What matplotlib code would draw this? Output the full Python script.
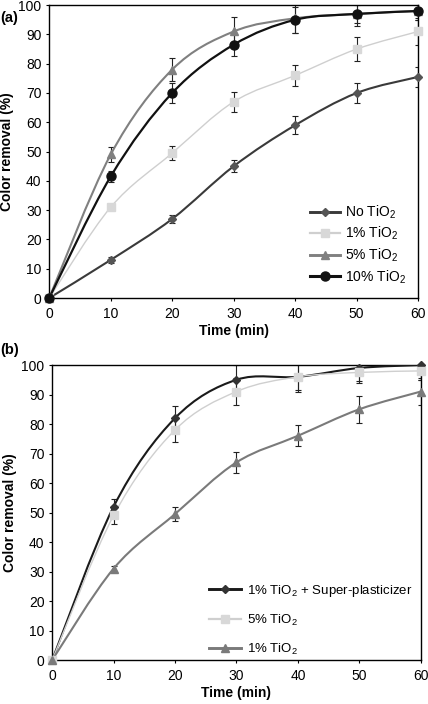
import numpy as np
import matplotlib
matplotlib.use("Agg")
import matplotlib.pyplot as plt
from matplotlib.path import Path
from matplotlib.patches import PathPatch
from matplotlib.lines import Line2D

plt.rcParams['font.family'] = ['Liberation Sans', 'DejaVu Sans']
plt.rcParams['mathtext.fontset'] = 'custom'
plt.rcParams['mathtext.rm'] = 'Liberation Sans'
plt.rcParams['mathtext.it'] = 'Liberation Sans'

# ---- data ----
time_min = [0, 10, 20, 30, 40, 50, 60]

# panel (a)
a_labels = ["No TiO$_2$", "1% TiO$_2$", "5% TiO$_2$", "10% TiO$_2$"]
a_no_tio2 = [0, 13, 27, 45, 59, 70, 75.5]
a_no_tio2_err = [0, 1, 1.5, 2, 3, 3.5, 3.5]
a_1pct = [0, 31, 49.5, 67, 76, 85, 91]
a_1pct_err = [0, 0, 2.5, 3.5, 3.5, 4, 4.5]
a_5pct = [0, 49, 78, 91, 95.5, 97, 98]
a_5pct_err = [0, 2.5, 4, 5, 5, 4, 3]
a_10pct = [0, 41.5, 70, 86.5, 95, 97, 98]
a_10pct_err = [0, 2, 3.5, 4, 4.5, 3, 3]

# panel (b)
b_labels = ["1% TiO$_2$ + Super-plasticizer", "5% TiO$_2$", "1% TiO$_2$"]
b_super = [0, 52, 82, 95, 96, 99, 100]
b_super_err = [0, 2.5, 4, 5, 5, 5, 5]
b_5pct = [0, 49, 78, 91, 96, 97.5, 98]
b_5pct_err = [0, 3, 4, 4.5, 4.5, 3, 3]
b_1pct = [0, 31, 49.5, 67, 76, 85, 91]
b_1pct_err = [0, 1, 2.5, 3.5, 3.5, 4.5, 4.5]


def smooth_path(x, y):
    # Excel-like smoothed line: Catmull-Rom segments as cubic Beziers
    p = np.column_stack([x, y]).astype(float)
    n = len(p)
    verts = [p[0]]
    codes = [Path.MOVETO]
    for i in range(n - 1):
        p0 = p[i - 1] if i > 0 else p[i]
        p1 = p[i]
        p2 = p[i + 1]
        p3 = p[i + 2] if i + 2 < n else p[i + 1]
        c1 = p1 + (p2 - p0) / 6.0
        c2 = p2 - (p3 - p1) / 6.0
        verts += [c1, c2, p2]
        codes += [Path.CURVE4] * 3
    return Path(verts, codes)


def draw_series(ax, y, err, color, mcolor, marker, ms, lw):
    ax.add_patch(PathPatch(smooth_path(time_min, y), facecolor='none',
                           edgecolor=color, lw=lw, zorder=3))
    ax.errorbar(time_min, y, yerr=err, fmt='none', ecolor='#222222',
                elinewidth=0.8, capsize=2, capthick=0.8, zorder=2)
    ax.plot(time_min, y, ls='none', marker=marker, ms=ms, color=mcolor,
            mec=mcolor, zorder=4, clip_on=False)
    return Line2D([], [], color=color, lw=lw + 0.6, marker=marker, ms=ms,
                  mfc=mcolor, mec=mcolor)


def style_axes(ax):
    ax.set_xlim(0, 60)
    ax.set_ylim(0, 100)
    ax.set_xticks(range(0, 61, 10))
    ax.set_yticks(range(0, 101, 10))
    ax.tick_params(labelsize=10, length=2.5, width=0.8, pad=3)
    ax.tick_params(axis='x', pad=4)
    for s in ax.spines.values():
        s.set_linewidth(1.0)
    ax.set_xlabel("Time (min)", fontsize=10, fontweight='bold', labelpad=2)
    ax.set_ylabel("Color removal (%)", fontsize=10, fontweight='bold', labelpad=3)


fig = plt.figure(figsize=(4.28, 7.04), dpi=100)

# ---- panel (a) ----
ax1 = fig.add_axes([0.115, 0.5767, 0.862, 0.416])
h = []
h.append(draw_series(ax1, a_no_tio2, a_no_tio2_err, '#3a3a3a', '#555555', 'D', 4, 1.5))
h.append(draw_series(ax1, a_1pct, a_1pct_err, '#cfcfcf', '#d8d8d8', 's', 6, 1.0))
h.append(draw_series(ax1, a_5pct, a_5pct_err, '#808080', '#808080', '^', 6, 1.5))
h.append(draw_series(ax1, a_10pct, a_10pct_err, '#111111', '#111111', 'o', 6.5, 1.6))
style_axes(ax1)
ax1.legend(h, a_labels, loc='lower right', bbox_to_anchor=(1.0, 0.0),
           frameon=False, fontsize=10, handlelength=2.2, handletextpad=0.3,
           labelspacing=0.3)
fig.text(0.0, 0.985, "(a)", fontsize=10.5, fontweight='bold', va='top')

# ---- panel (b) ----
ax2 = fig.add_axes([0.122, 0.0625, 0.861, 0.419])
h = []
h.append(draw_series(ax2, b_super, b_super_err, '#1a1a1a', '#333333', 'D', 4, 1.5))
h.append(draw_series(ax2, b_5pct, b_5pct_err, '#cfcfcf', '#d8d8d8', 's', 6, 1.0))
h.append(draw_series(ax2, b_1pct, b_1pct_err, '#7a7a7a', '#7a7a7a', '^', 6, 1.5))
style_axes(ax2)
ax2.legend(h, b_labels, loc='lower right', bbox_to_anchor=(1.01, -0.03),
           frameon=False, fontsize=9.5, handlelength=2.4, handletextpad=0.5,
           labelspacing=1.05)
fig.text(0.0, 0.5128, "(b)", fontsize=10.5, fontweight='bold', va='top')

fig.savefig("out.png", dpi=100)
